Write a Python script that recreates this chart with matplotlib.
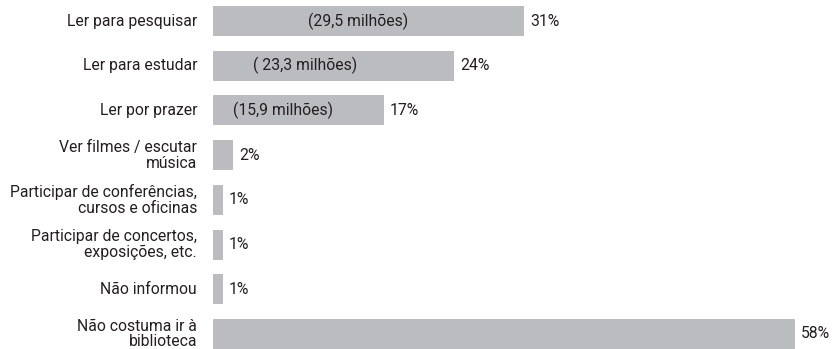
import matplotlib
matplotlib.use("Agg")
import matplotlib.pyplot as plt

categories = [
    "Ler para pesquisar",
    "Ler para estudar",
    "Ler por prazer",
    "Ver filmes / escutar\nmúsica",
    "Participar de conferências,\ncursos e oficinas",
    "Participar de concertos,\nexposições, etc.",
    "Não informou",
    "Não costuma ir à\nbiblioteca",
]
percent = [31, 24, 17, 2, 1, 1, 1, 58]
value_labels = ["31%", "24%", "17%", "2%", "1%", "1%", "1%", "58%"]
inner_labels = ["(29,5 milhões)", "( 23,3 milhões)", "(15,9 milhões)", "", "", "", "", ""]

# horizontal placement of the inner labels (data units)
inner_x = [14.5, 9.2, 7.0, 0, 0, 0, 0, 0]

plt.rcParams["font.family"] = ["Roboto", "DejaVu Sans"]

W, H = 834, 349
fig = plt.figure(figsize=(W / 100, H / 100), dpi=100)
left_px, right_px = 213, 815
ax = fig.add_axes([left_px / W, 0, (right_px - left_px) / W, 1])

bar_color = "#bbbcc0"
pos = list(range(len(categories)))
ax.barh(pos, percent, height=0.67, color=bar_color)

ax.set_xlim(0, 60)
step = 44.7
ax.set_ylim(7 + (H - 334) / step, -21 / step)
ax.axis("off")

fs = 11.3
txt_color = "#231f20"
for i, (cat, p, vl, il, ix) in enumerate(zip(categories, percent, value_labels, inner_labels, inner_x)):
    ax.annotate(cat, xy=(0, i), xytext=(-16, 0), textcoords="offset pixels",
                ha="right", va="center", fontsize=fs, color=txt_color, linespacing=1.07)
    ax.annotate(vl, xy=(p, i), xytext=(6, 0), textcoords="offset pixels",
                ha="left", va="center", fontsize=fs, color=txt_color)
    if il:
        ax.text(ix, i, il, ha="center", va="center", fontsize=fs, color=txt_color)

fig.savefig("out.png", dpi=100)
